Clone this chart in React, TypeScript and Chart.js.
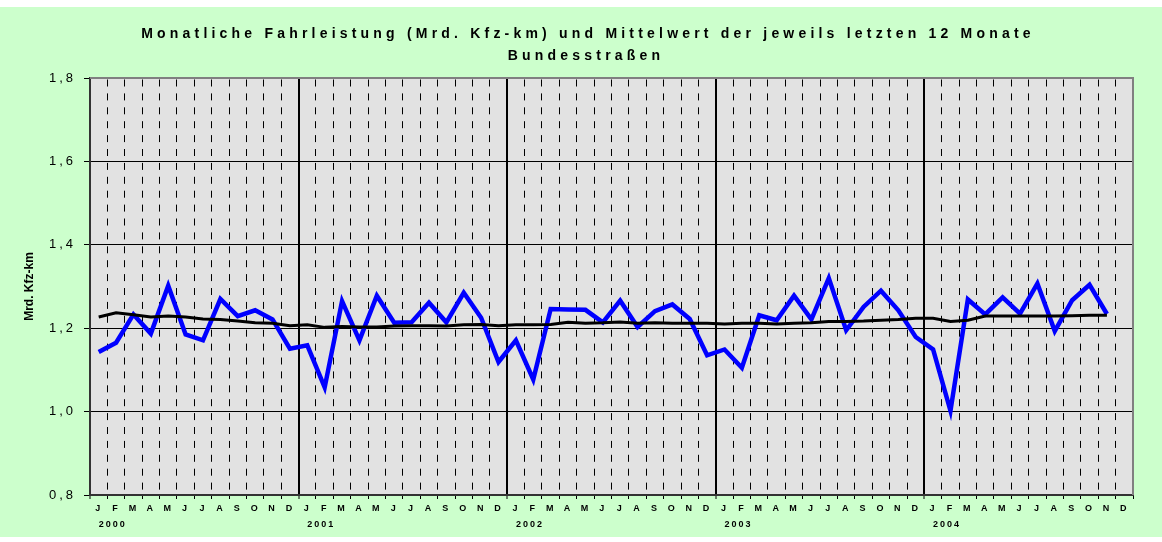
import React, { useEffect, useRef } from "react";
import { Chart, registerables } from "chart.js";

Chart.register(...registerables);

const monthLetters = ["J", "F", "M", "A", "M", "J", "J", "A", "S", "O", "N", "D"];
const years = ["2000", "2001", "2002", "2003", "2004"];
const categories = years.flatMap((y) => monthLetters.map((m, i) => `${m}${i} ${y}`));

const titleLines = [
  "Monatliche Fahrleistung (Mrd. Kfz-km) und Mittelwert der jeweils letzten 12 Monate",
  "Bundesstraßen",
];
const yAxisTitle = "Mrd. Kfz-km";

// Monthly values (Mrd. Kfz-km), Jan 2000 .. Dec 2004
const monthly = [
  1.143, 1.165, 1.233, 1.187, 1.302, 1.185, 1.171, 1.270, 1.229, 1.243, 1.221, 1.151,
  1.159, 1.058, 1.265, 1.171, 1.278, 1.213, 1.214, 1.261, 1.214, 1.285, 1.225, 1.119,
  1.171, 1.077, 1.246, 1.245, 1.244, 1.214, 1.266, 1.203, 1.241, 1.257, 1.222, 1.135,
  1.149, 1.105, 1.231, 1.219, 1.278, 1.221, 1.320, 1.195, 1.251, 1.290, 1.243, 1.179,
  1.149, 1.002, 1.269, 1.233, 1.274, 1.235, 1.307, 1.193, 1.267, 1.304, 1.234, null,
];

// Mean of the respective last 12 months
const avg12 = [
  1.227, 1.237, 1.232, 1.227, 1.229, 1.227, 1.222, 1.221, 1.217, 1.213, 1.212, 1.206,
  1.208, 1.202, 1.204, 1.203, 1.203, 1.205, 1.206, 1.206, 1.205, 1.208, 1.209, 1.206,
  1.208, 1.208, 1.209, 1.214, 1.212, 1.213, 1.215, 1.212, 1.213, 1.212, 1.212, 1.212,
  1.210, 1.212, 1.212, 1.210, 1.212, 1.213, 1.216, 1.216, 1.217, 1.219, 1.221, 1.224,
  1.224, 1.216, 1.219, 1.229, 1.229, 1.229, 1.229, 1.229, 1.230, 1.231, 1.231, null,
];

const FONT = '"Liberation Sans", Arial, sans-serif';

export default function App() {
  const ref = useRef<HTMLCanvasElement>(null);

  useEffect(() => {
    if (!ref.current) return;

    const decor = {
      id: "decor",
      beforeDraw(chart: any) {
        const { ctx, chartArea: a } = chart;
        ctx.save();
        ctx.fillStyle = "#E2E2E2";
        ctx.fillRect(a.left, a.top, a.right - a.left, a.bottom - a.top);
        ctx.restore();
        const spacing: Record<string, string> = { x: "2px", x2: "2px", y: "3px" };
        Object.keys(chart.scales).forEach((id) => {
          const s: any = chart.scales[id];
          if (s.__patched) return;
          const orig = s.drawLabels.bind(s);
          s.drawLabels = (area: any) => {
            const c = s.ctx;
            c.save();
            c.letterSpacing = spacing[id] || "0px";
            orig(area);
            c.restore();
          };
          s.__patched = true;
        });
      },
      beforeDatasetsDraw(chart: any) {
        const { ctx, chartArea: a } = chart;
        ctx.save();
        ctx.strokeStyle = "#808080";
        ctx.lineWidth = 2;
        ctx.beginPath();
        ctx.moveTo(a.left, a.top);
        ctx.lineTo(a.right, a.top);
        ctx.lineTo(a.right, a.bottom);
        ctx.stroke();
        ctx.restore();
      },
      afterDraw(chart: any) {
        const { ctx, chartArea: a } = chart;
        ctx.save();
        ctx.fillStyle = "#000";
        ctx.textAlign = "center";
        ctx.textBaseline = "alphabetic";
        ctx.font = `bold 14px ${FONT}`;
        (ctx as any).letterSpacing = "4.2px";
        ctx.fillText(titleLines[0], 588, 31);
        ctx.fillText(titleLines[1], 586, 53);
        (ctx as any).letterSpacing = "0px";
        ctx.font = `bold 12px ${FONT}`;
        ctx.translate(30, (a.top + a.bottom) / 2);
        ctx.rotate(-Math.PI / 2);
        ctx.textBaseline = "middle";
        ctx.fillText(yAxisTitle, 0, 0);
        ctx.restore();
      },
    };

    const chart = new Chart(ref.current, {
      type: "line",
      data: {
        labels: categories,
        datasets: [
          {
            label: "Mittelwert der letzten 12 Monate",
            data: avg12,
            borderColor: "#000000",
            borderWidth: 3,
            pointRadius: 0,
            tension: 0,
            xAxisID: "x",
          },
          {
            label: "Monatliche Fahrleistung",
            data: monthly,
            borderColor: "#0000FF",
            borderWidth: 4.5,
            pointRadius: 0,
            tension: 0,
            xAxisID: "x",
          },
        ],
      },
      options: {
        responsive: false,
        animation: false,
        layout: { padding: { top: 71, right: 29, bottom: 0, left: 0 } },
        plugins: {
          legend: { display: false },
          title: { display: false },
          tooltip: { enabled: false },
        },
        scales: {
          x: {
            type: "category",
            position: "bottom",
            offset: true,
            afterFit: (s: any) => {
              s.height = 21;
            },
            grid: {
              offset: true,
              color: (c: any) =>
                c.index === 0 || c.index === 60 ? "rgba(0,0,0,0)" : "#000000",
              lineWidth: (c: any) => (c.index % 12 === 0 ? 2 : 1),
              tickColor: "#000000",
              tickLength: 4,
              tickWidth: 1,
              tickBorderDash: [],
            },
            border: {
              display: true,
              color: "#333333",
              width: 2,
              dash: (c: any) => (c.index % 12 === 0 ? [] : [7, 6.9]),
              dashOffset: 12.4,
            },
            ticks: {
              autoSkip: false,
              maxRotation: 0,
              minRotation: 0,
              padding: 4,
              color: "#000000",
              font: { family: FONT, size: 9, weight: "bold" },
              callback: (_v: any, i: number) => monthLetters[i % 12],
            },
          },
          x2: {
            type: "category",
            position: "bottom",
            offset: true,
            afterFit: (s: any) => {
              s.height = 21;
            },
            grid: { display: false, drawTicks: false },
            border: { display: false },
            ticks: {
              autoSkip: false,
              maxRotation: 0,
              minRotation: 0,
              align: "start",
              padding: 3,
              color: "#000000",
              font: { family: FONT, size: 9, weight: "bold" },
              callback: (_v: any, i: number) => (i % 12 === 0 ? years[i / 12] : ""),
            },
          },
          y: {
            min: 0.8,
            max: 1.8,
            afterFit: (s: any) => {
              s.width = 90;
            },
            grid: {
              color: "#000000",
              lineWidth: 1,
              tickColor: "#000000",
              tickLength: 6,
            },
            border: { display: true, color: "#333333", width: 2 },
            ticks: {
              stepSize: 0.2,
              padding: 8,
              color: "#000000",
              font: { family: FONT, size: 13 },
              callback: (v: any) => Number(v).toFixed(1).replace(".", ","),
            },
          },
        },
      },
      plugins: [decor],
    } as any);

    return () => chart.destroy();
  }, []);

  return (
    <div
      style={{
        position: "absolute",
        left: 0,
        top: 7,
        width: 1162,
        height: 530,
        background: "#CCFFCC",
      }}
    >
      <canvas ref={ref} width={1162} height={530} />
    </div>
  );
}
